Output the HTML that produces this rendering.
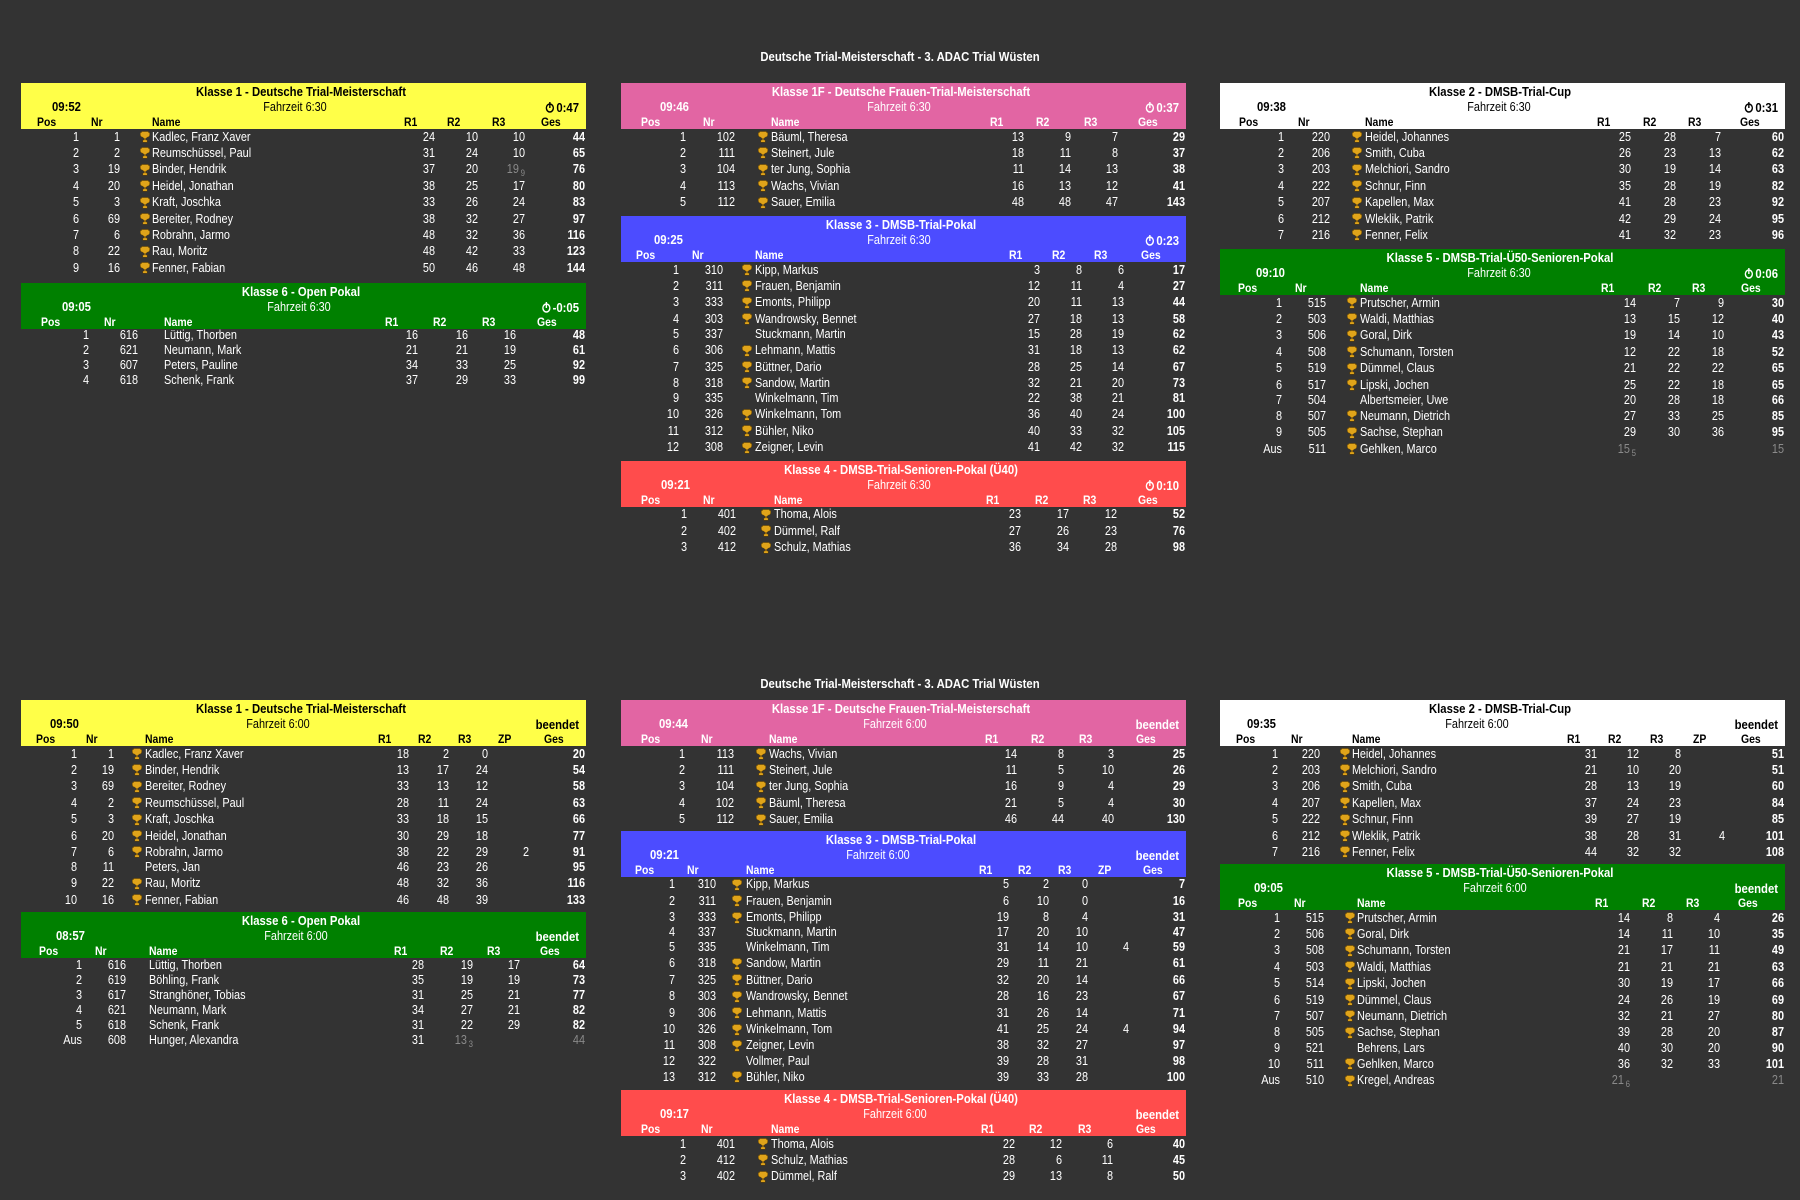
<!DOCTYPE html>
<html><head><meta charset="utf-8">
<style>
html,body{margin:0;padding:0;background:#333333;width:1800px;height:1200px;overflow:hidden}
body{position:relative;font-family:"Liberation Sans",Arial,sans-serif;color:#fff}
.s{position:absolute;white-space:nowrap;line-height:14px;font-size:12.5px;transform:scaleX(.87)}
.l{transform-origin:left center}
.r{transform-origin:right center;text-align:right;width:300px}
.c{transform-origin:center center;text-align:center;width:600px}
.b{font-weight:bold}
.hd{position:absolute;height:46px}
.g{color:#8a8a8a}
sub{font-size:9px;vertical-align:-3px;margin-left:2px}
</style></head><body>
<div id="root"></div>
<script>
var T=[
{L:21,top:83,bg:'#ffff48',fg:'#000',t:'Klasse 1 - Deutsche Trial-Meisterschaft',time:'09:52',tx:31,fz:'Fahrzeit 6:30',fx:274,rt:'0:47',
h:[16,70,131,383,426,471,null,520],v:[58,99,119,414,457,504,null],
rows:['1|1|T|Kadlec, Franz Xaver|24|10|10|44','2|2|T|Reumschüssel, Paul|31|24|10|65','3|19|T|Binder, Hendrik|37|20|~19^9|76','4|20|T|Heidel, Jonathan|38|25|17|80','5|3|T|Kraft, Joschka|33|26|24|83','6|69|T|Bereiter, Rodney|38|32|27|97','7|6|T|Robrahn, Jarmo|48|32|36|116','8|22|T|Rau, Moritz|48|42|33|123','9|16|T|Fenner, Fabian|50|46|48|144']},
{L:21,top:282.7,bg:'#008000',fg:'#fff',t:'Klasse 6 - Open Pokal',time:'09:05',tx:41,fz:'Fahrzeit 6:30',fx:278,rt:'-0:05',
h:[20,83,143,364,412,461,null,516],v:[68,117,null,397,447,495,null],
rows:['1|616|F|Lüttig, Thorben|16|16|16|48','2|621|F|Neumann, Mark|21|21|19|61','3|607|F|Peters, Pauline|34|33|25|92','4|618|F|Schenk, Frank|37|29|33|99']},
{L:621,top:83,bg:'#e265a3',fg:'#fff',t:'Klasse 1F - Deutsche Frauen-Trial-Meisterschaft',time:'09:46',tx:39,fz:'Fahrzeit 6:30',fx:278,rt:'0:37',
h:[20,82,150,369,415,463,null,517],v:[65,114,137,403,450,497,null],
rows:['1|102|T|Bäuml, Theresa|13|9|7|29','2|111|T|Steinert, Jule|18|11|8|37','3|104|T|ter Jung, Sophia|11|14|13|38','4|113|T|Wachs, Vivian|16|13|12|41','5|112|T|Sauer, Emilia|48|48|47|143']},
{L:621,top:216,bg:'#4c4cff',fg:'#fff',t:'Klasse 3 - DMSB-Trial-Pokal',time:'09:25',tx:33,fz:'Fahrzeit 6:30',fx:278,rt:'0:23',
h:[15,71,134,388,431,473,null,520],v:[58,102,121,419,461,503,null],
rows:['1|310|T|Kipp, Markus|3|8|6|17','2|311|T|Frauen, Benjamin|12|11|4|27','3|333|T|Emonts, Philipp|20|11|13|44','4|303|T|Wandrowsky, Bennet|27|18|13|58','5|337|F|Stuckmann, Martin|15|28|19|62','6|306|T|Lehmann, Mattis|31|18|13|62','7|325|T|Büttner, Dario|28|25|14|67','8|318|T|Sandow, Martin|32|21|20|73','9|335|F|Winkelmann, Tim|22|38|21|81','10|326|T|Winkelmann, Tom|36|40|24|100','11|312|T|Bühler, Niko|40|33|32|105','12|308|T|Zeigner, Levin|41|42|32|115']},
{L:621,top:460.7,bg:'#ff4c4c',fg:'#fff',t:'Klasse 4 - DMSB-Trial-Senioren-Pokal (Ü40)',time:'09:21',tx:40,fz:'Fahrzeit 6:30',fx:278,rt:'0:10',
h:[20,82,153,365,414,462,null,517],v:[66,115,140,400,448,496,null],
rows:['1|401|T|Thoma, Alois|23|17|12|52','2|402|T|Dümmel, Ralf|27|26|23|76','3|412|T|Schulz, Mathias|36|34|28|98']},
{L:1220,top:83,bg:'#ffffff',fg:'#000',t:'Klasse 2 - DMSB-Trial-Cup',time:'09:38',tx:37,fz:'Fahrzeit 6:30',fx:279,rt:'0:31',
h:[19,78,145,377,423,468,null,520],v:[64,110,132,411,456,501,null],
rows:['1|220|T|Heidel, Johannes|25|28|7|60','2|206|T|Smith, Cuba|26|23|13|62','3|203|T|Melchiori, Sandro|30|19|14|63','4|222|T|Schnur, Finn|35|28|19|82','5|207|T|Kapellen, Max|41|28|23|92','6|212|T|Wleklik, Patrik|42|29|24|95','7|216|T|Fenner, Felix|41|32|23|96']},
{L:1220,top:249,bg:'#008000',fg:'#fff',t:'Klasse 5 - DMSB-Trial-Ü50-Senioren-Pokal',time:'09:10',tx:36,fz:'Fahrzeit 6:30',fx:279,rt:'0:06',
h:[18,75,140,381,428,472,null,521],v:[62,106,127,416,460,504,null],
rows:['1|515|T|Prutscher, Armin|14|7|9|30','2|503|T|Waldi, Matthias|13|15|12|40','3|506|T|Goral, Dirk|19|14|10|43','4|508|T|Schumann, Torsten|12|22|18|52','5|519|T|Dümmel, Claus|21|22|22|65','6|517|T|Lipski, Jochen|25|22|18|65','7|504|F|Albertsmeier, Uwe|20|28|18|66','8|507|T|Neumann, Dietrich|27|33|25|85','9|505|T|Sachse, Stephan|29|30|36|95','Aus|511|T|Gehlken, Marco|~15^5|||~15']},
{L:21,top:700,bg:'#ffff48',fg:'#000',t:'Klasse 1 - Deutsche Trial-Meisterschaft',time:'09:50',tx:29,fz:'Fahrzeit 6:00',fx:257,rt:'beendet',
h:[15,65,124,357,397,437,477,523],v:[56,93,111,388,428,467,508],
rows:['1|1|T|Kadlec, Franz Xaver|18|2|0||20','2|19|T|Binder, Hendrik|13|17|24||54','3|69|T|Bereiter, Rodney|33|13|12||58','4|2|T|Reumschüssel, Paul|28|11|24||63','5|3|T|Kraft, Joschka|33|18|15||66','6|20|T|Heidel, Jonathan|30|29|18||77','7|6|T|Robrahn, Jarmo|38|22|29|2|91','8|11|F|Peters, Jan|46|23|26||95','9|22|T|Rau, Moritz|48|32|36||116','10|16|T|Fenner, Fabian|46|48|39||133']},
{L:21,top:912,bg:'#008000',fg:'#fff',t:'Klasse 6 - Open Pokal',time:'08:57',tx:35,fz:'Fahrzeit 6:00',fx:275,rt:'beendet',
h:[18,74,128,373,419,466,null,519],v:[61,105,null,403,452,499,null],
rows:['1|616|F|Lüttig, Thorben|28|19|17|64','2|619|F|Böhling, Frank|35|19|19|73','3|617|F|Stranghöner, Tobias|31|25|21|77','4|621|F|Neumann, Mark|34|27|21|82','5|618|F|Schenk, Frank|31|22|29|82','Aus|608|F|Hunger, Alexandra|31|~13^3||~44']},
{L:621,top:700,bg:'#e265a3',fg:'#fff',t:'Klasse 1F - Deutsche Frauen-Trial-Meisterschaft',time:'09:44',tx:38,fz:'Fahrzeit 6:00',fx:274,rt:'beendet',
h:[20,80,148,364,410,458,null,515],v:[64,113,135,396,443,493,null],
rows:['1|113|T|Wachs, Vivian|14|8|3|25','2|111|T|Steinert, Jule|11|5|10|26','3|104|T|ter Jung, Sophia|16|9|4|29','4|102|T|Bäuml, Theresa|21|5|4|30','5|112|T|Sauer, Emilia|46|44|40|130']},
{L:621,top:830.7,bg:'#4c4cff',fg:'#fff',t:'Klasse 3 - DMSB-Trial-Pokal',time:'09:21',tx:29,fz:'Fahrzeit 6:00',fx:257,rt:'beendet',
h:[14,66,125,358,397,437,477,522],v:[54,95,111,388,428,467,508],
rows:['1|310|T|Kipp, Markus|5|2|0||7','2|311|T|Frauen, Benjamin|6|10|0||16','3|333|T|Emonts, Philipp|19|8|4||31','4|337|F|Stuckmann, Martin|17|20|10||47','5|335|F|Winkelmann, Tim|31|14|10|4|59','6|318|T|Sandow, Martin|29|11|21||61','7|325|T|Büttner, Dario|32|20|14||66','8|303|T|Wandrowsky, Bennet|28|16|23||67','9|306|T|Lehmann, Mattis|31|26|14||71','10|326|T|Winkelmann, Tom|41|25|24|4|94','11|308|T|Zeigner, Levin|38|32|27||97','12|322|F|Vollmer, Paul|39|28|31||98','13|312|T|Bühler, Niko|39|33|28||100']},
{L:621,top:1090,bg:'#ff4c4c',fg:'#fff',t:'Klasse 4 - DMSB-Trial-Senioren-Pokal (Ü40)',time:'09:17',tx:39,fz:'Fahrzeit 6:00',fx:274,rt:'beendet',
h:[20,80,150,360,408,457,null,515],v:[65,114,137,394,441,492,null],
rows:['1|401|T|Thoma, Alois|22|12|6|40','2|412|T|Schulz, Mathias|28|6|11|45','3|402|T|Dümmel, Ralf|29|13|8|50']},
{L:1220,top:700,bg:'#ffffff',fg:'#000',t:'Klasse 2 - DMSB-Trial-Cup',time:'09:35',tx:27,fz:'Fahrzeit 6:00',fx:257,rt:'beendet',
h:[16,71,132,347,388,430,473,521],v:[58,100,120,377,419,461,505],
rows:['1|220|T|Heidel, Johannes|31|12|8||51','2|203|T|Melchiori, Sandro|21|10|20||51','3|206|T|Smith, Cuba|28|13|19||60','4|207|T|Kapellen, Max|37|24|23||84','5|222|T|Schnur, Finn|39|27|19||85','6|212|T|Wleklik, Patrik|38|28|31|4|101','7|216|T|Fenner, Felix|44|32|32||108']},
{L:1220,top:864,bg:'#008000',fg:'#fff',t:'Klasse 5 - DMSB-Trial-Ü50-Senioren-Pokal',time:'09:05',tx:34,fz:'Fahrzeit 6:00',fx:275,rt:'beendet',
h:[18,74,137,375,422,466,null,518],v:[60,104,125,410,453,500,null],
rows:['1|515|T|Prutscher, Armin|14|8|4|26','2|506|T|Goral, Dirk|14|11|10|35','3|508|T|Schumann, Torsten|21|17|11|49','4|503|T|Waldi, Matthias|21|21|21|63','5|514|T|Lipski, Jochen|30|19|17|66','6|519|T|Dümmel, Claus|24|26|19|69','7|507|T|Neumann, Dietrich|32|21|27|80','8|505|T|Sachse, Stephan|39|28|20|87','9|521|F|Behrens, Lars|40|30|20|90','10|511|T|Gehlken, Marco|36|32|33|101','Aus|510|T|Kregel, Andreas|~21^6|||~21']}
];
var TROPHY='<svg width="10" height="12" viewBox="0 0 10 12" style="position:absolute"><path d="M1.5 .5h7v1h1.2v2.2c0 1.4-.9 2.3-2.1 2.4C7 6.6 6.2 7.2 5.6 7.4V9h1.6v2.3H2.8V9h1.6V7.4C3.8 7.2 3 6.6 2.4 6.1 1.2 6 .3 5.1.3 3.7V1.5h1.2z" fill="#e0a41a" stroke="#5a3c00" stroke-width=".5"/></svg>';
function TIMER(c){return '<svg width="11" height="12" viewBox="0 0 11 12" style="vertical-align:-1px;margin-right:2px"><circle cx="5.5" cy="7" r="4" fill="none" stroke="'+c+'" stroke-width="1.6"/><path d="M5.5 1v6" stroke="'+c+'" stroke-width="1.6"/></svg>';}
var h='';
function span(cls,x,y,txt,extra){
  var st;
  if(cls.indexOf('r')==0) st='left:'+(x-300)+'px;';
  else if(cls.indexOf('c')==0) st='left:'+(x-300)+'px;';
  else st='left:'+x+'px;';
  st+='top:'+(y-7)+'px;'+(extra||'');
  h+='<div class="s '+cls+'" style="'+st+'">'+txt+'</div>';
}
function cell(v){
  if(v.charAt(0)=='~'){var p=v.slice(1).split('^');return {g:1,t:p[0]+(p[1]?'<sub>'+p[1]+'</sub>':'')};}
  return {g:0,t:v};
}
span('c b',900,57,'Deutsche Trial-Meisterschaft - 3. ADAC Trial Wüsten','font-size:13px;');
span('c b',900,684,'Deutsche Trial-Meisterschaft - 3. ADAC Trial Wüsten','font-size:13px;');
T.forEach(function(t){
  var L=t.L,y=t.top,zp=t.h[6]!==null;
  h+='<div class="hd" style="left:'+L+'px;top:'+y+'px;width:565px;background:'+t.bg+'"></div>';
  var col='color:'+t.fg+';';
  span('c b',L+280,y+9,t.t,col+'font-size:13px;');
  span('l b',L+t.tx,y+24,t.time,col+'font-size:13px;');
  span('c',L+t.fx,y+24,t.fz,col);
  span('r b',L+558,y+25,(t.rt=='beendet'?'':TIMER(t.fg))+t.rt,col+'font-size:13px;');
  var labs=['Pos','Nr','Name','R1','R2','R3','ZP','Ges'];
  for(var i=0;i<8;i++){ if(t.h[i]===null) continue; span('l b',L+t.h[i],y+39,labs[i],col+'font-size:12px;'); }
  var ry=y+46;
  t.rows.forEach(function(r){
    var p=r.split('|');var tr=p[2]=='T';var rh=tr?16.4:15;
    var cy=ry+(tr?7.5:6.5);
    span('r',L+t.v[0],cy,p[0]);
    span('r',L+t.v[1],cy,p[1]);
    if(tr&&t.v[2]!==null) h+='<div style="position:absolute;left:'+(L+t.v[2])+'px;top:'+(ry+2)+'px;width:10px;height:12px">'+TROPHY+'</div>';
    span('l',L+t.h[2],cy,p[3]);
    var vals=zp?[p[4],p[5],p[6],p[7]]:[p[4],p[5],p[6]];
    var xs=zp?[t.v[3],t.v[4],t.v[5],t.v[6]]:[t.v[3],t.v[4],t.v[5]];
    for(var k=0;k<vals.length;k++){ if(!vals[k]) continue; var c=cell(vals[k]); span('r'+(c.g?' g':''),L+xs[k],cy,c.t); }
    var gs=cell(zp?p[8]:p[7]);
    span('r '+(gs.g?'g':'b'),L+564,cy,gs.t);
    ry+=rh;
  });
});
document.getElementById('root').innerHTML=h;
</script>
</body></html>
